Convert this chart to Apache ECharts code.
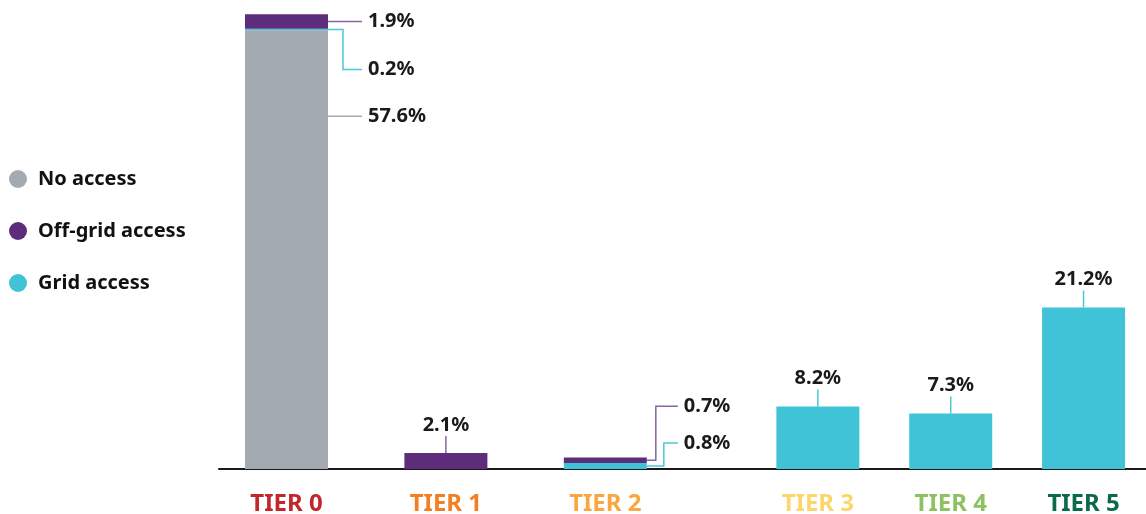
<!DOCTYPE html>
<html>
<head>
<meta charset="utf-8">
<script src="https://cdn.jsdelivr.net/npm/echarts@6/dist/echarts.min.js"></script>
<style>
  html, body { margin: 0; padding: 0; background: #fff; }
  #chart { width: 1146px; height: 514px; }
</style>
</head>
<body>
<div id="chart"></div>
<script>
// Share of population by electricity access tier (%)
const tiers = ['TIER 0', 'TIER 1', 'TIER 2', 'TIER 3', 'TIER 4', 'TIER 5'];
const noAccess = [57.6, 0, 0, 0, 0, 0];
const gridAccess = [0.2, 0, 0.8, 8.2, 7.3, 21.2];
const offGridAccess = [1.9, 2.1, 0.7, 0, 0, 0];

// Where each tier sits along the horizontal axis (tiers 0-2 spread wider than 3-5)
const tierSlots = [0, 1.2, 2.4, 4, 5, 6];
const tierColors = ['#c1272d', '#f47f20', '#f9a73e', '#fdd66b', '#8dc162', '#0b6a4b'];

const FONT = '"Noto Sans", "Open Sans", sans-serif';
const BAR_W = 83;

// Segments stacked bottom-to-top in each bar
const stackSeries = [
  { name: 'No access', values: noAccess, color: '#a3aab2', line: '#a3aab2' },
  { name: 'Grid access', values: gridAccess, color: '#40c3d6', line: '#4cc7d8' },
  { name: 'Off-grid access', values: offGridAccess, color: '#5d2c7b', line: '#8a63a3' }
];

// Callout styles: 'top' = tick above the bar, 'elbow' = bent leader to the right,
// 'flat' = straight leader to the right at a shifted height
const calloutStyle = {
  '0-0': { kind: 'flat', dy: 86 },
  '1-0': { kind: 'elbow', ex: 15, dy: 40 },
  '2-0': { kind: 'elbow', ex: 15, dy: 0 },
  '2-1': { kind: 'top' },
  '2-2': { kind: 'elbow', ex: 9, dy: -54 },
  '1-2': { kind: 'elbow', ex: 17, dy: -23 },
  '1-3': { kind: 'top' },
  '1-4': { kind: 'top' },
  '1-5': { kind: 'top' }
};

// Segment items per series: [slot, segment base, segment value, series, tier]
const segments = stackSeries.map(() => []);
const base = tiers.map(() => 0);
stackSeries.forEach((s, si) => {
  s.values.forEach((v, ti) => {
    if (v > 0) segments[si].push([tierSlots[ti], base[ti], v, si, ti]);
    base[ti] += v;
  });
});
const calloutData = [].concat(...segments);

function renderSegment(params, api) {
  const slot = api.value(0), b = api.value(1), v = api.value(2);
  const p0 = api.coord([slot, b]);
  const p1 = api.coord([slot, b + v]);
  return {
    type: 'rect',
    shape: { x: p0[0] - BAR_W / 2, y: p1[1], width: BAR_W, height: p0[1] - p1[1] },
    style: { fill: api.visual('color') }
  };
}

function renderCallout(params, api) {
  const slot = api.value(0), b = api.value(1), v = api.value(2);
  const si = api.value(3), ti = api.value(4);
  const st = calloutStyle[si + '-' + ti] || { kind: 'top' };
  const color = stackSeries[si].line;
  const text = v.toFixed(1) + '%';
  const textStyle = { fontFamily: FONT, fontSize: 20, fontWeight: 'bold', fill: '#1a1a1a' };
  const top = api.coord([slot, b + v]);
  const mid = api.coord([slot, b + v / 2]);
  const right = top[0] + BAR_W / 2;
  const children = [];
  if (st.kind === 'top') {
    const y0 = top[1], y1 = top[1] - 17;
    children.push({ type: 'line', shape: { x1: top[0], y1: y0, x2: top[0], y2: y1 },
      style: { stroke: color, lineWidth: 1.5 } });
    children.push({ type: 'text', x: top[0], y: y1 - 1,
      style: Object.assign({ text, align: 'center', verticalAlign: 'bottom' }, textStyle) });
  } else {
    const lineLen = ti === 0 ? 34 : 31;
    let pts;
    let ly;
    if (st.kind === 'flat') {
      ly = top[1] + st.dy;
      pts = [[right, ly], [right + lineLen, ly]];
    } else {
      ly = mid[1] + st.dy;
      pts = [[right, mid[1]], [right + st.ex, mid[1]], [right + st.ex, ly], [right + lineLen, ly]];
    }
    children.push({ type: 'polyline', shape: { points: pts },
      style: { stroke: color, lineWidth: 1.5, fill: null } });
    children.push({ type: 'text', x: right + lineLen + 6, y: ly,
      style: Object.assign({ text, align: 'left', verticalAlign: 'middle' }, textStyle) });
  }
  return { type: 'group', children };
}

const chart = echarts.init(document.getElementById('chart'), null, { renderer: 'canvas' });

const series = stackSeries.map((s, si) => ({
  name: s.name,
  type: 'custom',
  renderItem: renderSegment,
  itemStyle: { color: s.color },
  data: segments[si],
  encode: { x: 0, y: 1 },
  silent: true
}));
series.push({
  type: 'custom',
  renderItem: renderCallout,
  data: calloutData,
  encode: { x: 0, y: 1 },
  clip: false,
  silent: true,
  z: 5
});

chart.setOption({
  animation: false,
  backgroundColor: '#fff',
  legend: {
    orient: 'vertical',
    left: 4,
    top: 164,
    icon: 'circle',
    itemWidth: 18,
    itemHeight: 18,
    itemGap: 32,
    data: ['No access', 'Off-grid access', 'Grid access'],
    textStyle: { fontFamily: FONT, fontSize: 20, fontWeight: 'bold', color: '#111', padding: [0, 0, 0, 6], lineHeight: 20 },
    selectedMode: false
  },
  grid: { left: 219, right: 0, top: 12, bottom: 45, outerBoundsMode: 'none', containLabel: false },
  xAxis: {
    type: 'value',
    min: -0.508,
    max: 6.47,
    splitLine: { show: false },
    axisTick: { show: false },
    axisLine: { show: true, onZero: false, lineStyle: { color: '#1a1a1a', width: 2 } },
    axisLabel: {
      customValues: tierSlots,
      margin: 23,
      formatter: function (val) {
        const i = tierSlots.findIndex(s => Math.abs(s - val) < 1e-6);
        return i < 0 ? '' : '{t' + i + '|' + tiers[i] + '}';
      },
      rich: Object.fromEntries(tierColors.map((c, i) => ['t' + i,
        { color: c, fontFamily: FONT, fontSize: 24, fontWeight: 'bold', lineHeight: 24 }]))
    }
  },
  yAxis: {
    type: 'value',
    min: 0,
    max: 60,
    show: false,
    splitLine: { show: false }
  },
  series
});
</script>
</body>
</html>
